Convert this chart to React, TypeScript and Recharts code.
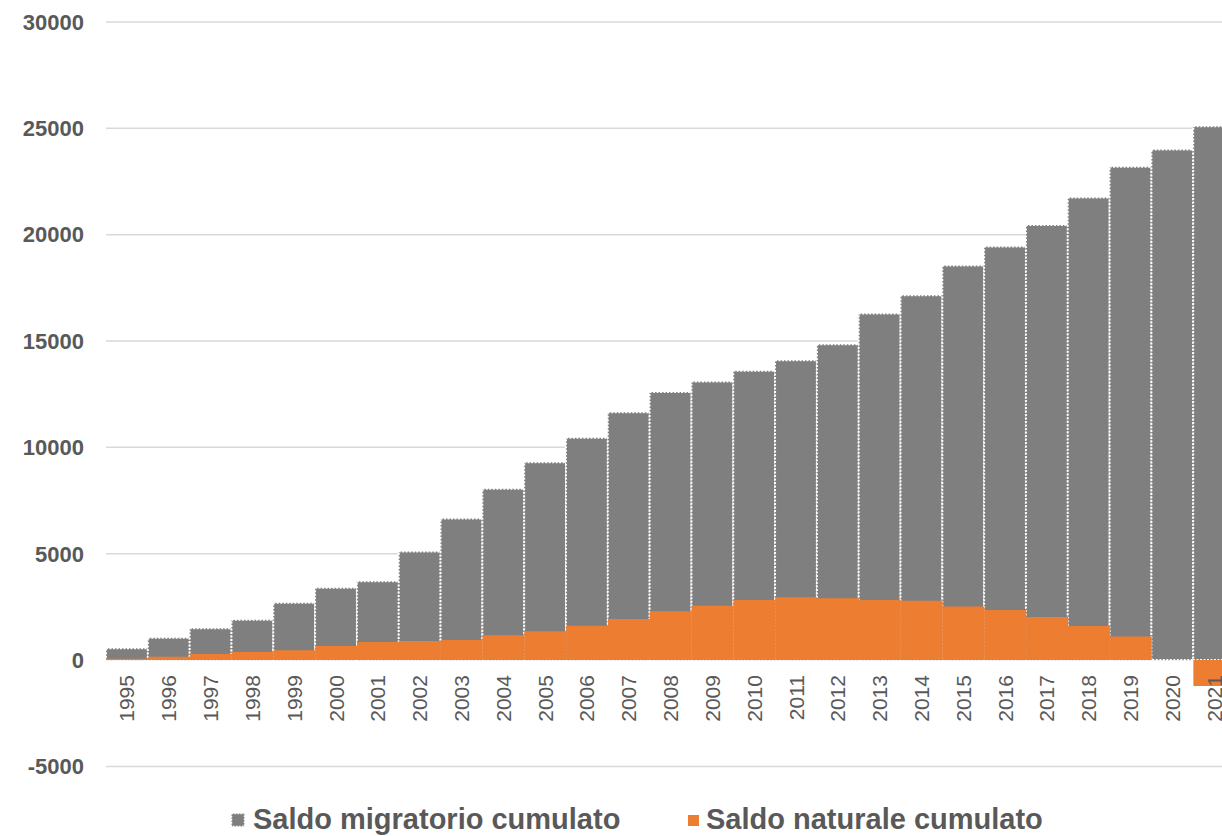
import { BarChart, Bar, XAxis, YAxis, CartesianGrid, Legend } from 'recharts'

const years = [
  '1995', '1996', '1997', '1998', '1999', '2000', '2001', '2002', '2003',
  '2004', '2005', '2006', '2007', '2008', '2009', '2010', '2011', '2012',
  '2013', '2014', '2015', '2016', '2017', '2018', '2019', '2020', '2021',
]

// saldo migratorio cumulato
const migratorio = [
  550, 1050, 1500, 1900, 2700, 3400, 3700, 5100, 6650,
  8050, 9300, 10450, 11650, 12600, 13100, 13600, 14100, 14850,
  16300, 17150, 18550, 19450, 20450, 21750, 23200, 24000, 25100,
]

// saldo naturale cumulato
const naturale = [
  60, 150, 280, 380, 460, 660, 850, 900, 940,
  1170, 1360, 1610, 1930, 2290, 2550, 2820, 2950, 2910,
  2820, 2790, 2520, 2350, 2020, 1600, 1110, 0, -1220,
]

const yTicks = [-5000, 0, 5000, 10000, 15000, 20000, 25000, 30000]

const data = years.map((year, i) => ({
  year,
  migratorio: migratorio[i],
  naturale: naturale[i],
}))

const W = 1235
const H = 836
const TOP = 22
const XAXIS_H = 29.6
const LEGEND_H = 40
const Y_MIN = -5000
const Y_MAX = 30000
const PLOT_H = H - TOP - XAXIS_H - LEGEND_H
// category labels sit under the zero line, like Excel does
const ZERO_Y = TOP + (PLOT_H * Y_MAX) / (Y_MAX - Y_MIN)

const GREY = '#7f7f7f'
const ORANGE = '#ed7d31'
const TEXT = '#595959'
const FONT = '"Liberation Sans", Arial, sans-serif'

function YearTick({ x, payload }: any) {
  return (
    <text
      transform={`translate(${x},${ZERO_Y + 15}) rotate(-90)`}
      textAnchor="end"
      dy="0.36em"
      fontSize={21}
      fill={TEXT}
      fontFamily={FONT}
    >
      {payload.value}
    </text>
  )
}

function LegendBox() {
  return (
    <svg width={W} height={LEGEND_H} style={{ display: 'block' }}>
      <rect
        x={231.5}
        y={17.5}
        width={13}
        height={13}
        fill={GREY}
        stroke="#fff"
        strokeWidth={1.5}
        strokeDasharray="1.5 1.5"
      />
      <text x={253} y={33} fontSize={29} fontWeight="bold" fill={TEXT} fontFamily={FONT}>
        Saldo migratorio cumulato
      </text>
      <rect x={688} y={19} width={11} height={11} fill={ORANGE} />
      <text x={706} y={33} fontSize={29} fontWeight="bold" fill={TEXT} fontFamily={FONT}>
        Saldo naturale cumulato
      </text>
    </svg>
  )
}

export default function App() {
  return (
    <div
      style={{
        position: 'absolute',
        left: 0,
        top: 0,
        width: 1222,
        height: 836,
        overflow: 'hidden',
        background: '#fff',
      }}
    >
      <BarChart
        width={W}
        height={H}
        data={data}
        margin={{ top: TOP, right: 0, bottom: 0, left: 0 }}
        barCategoryGap={0}
        barGap="-100%"
      >
        <CartesianGrid vertical={false} stroke="#d9d9d9" strokeWidth={1.5} />
        <XAxis
          dataKey="year"
          height={XAXIS_H}
          axisLine={false}
          tickLine={false}
          interval={0}
          tick={<YearTick />}
        />
        <YAxis
          width={106}
          domain={[Y_MIN, Y_MAX]}
          ticks={yTicks}
          interval={0}
          axisLine={false}
          tickLine={false}
          tickSize={0}
          tickMargin={22}
          tick={{ fontSize: 22, fontWeight: 'bold', fill: TEXT, fontFamily: FONT }}
        />
        <Legend verticalAlign="bottom" height={LEGEND_H} content={() => <LegendBox />} />
        <Bar
          dataKey="migratorio"
          fill={GREY}
          stroke="#fff"
          strokeWidth={2}
          strokeDasharray="2 1.5"
          isAnimationActive={false}
        />
        <Bar dataKey="naturale" fill={ORANGE} isAnimationActive={false} />
      </BarChart>
    </div>
  )
}
